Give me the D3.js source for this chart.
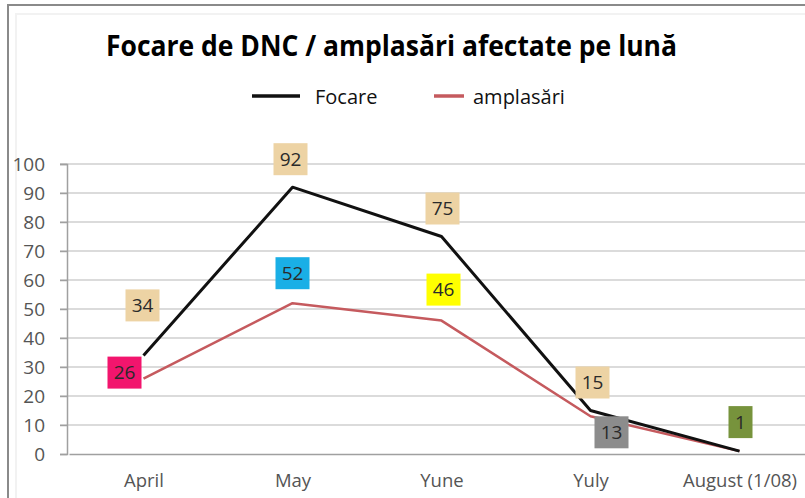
<!DOCTYPE html>
<html>
<head>
<meta charset="utf-8">
<script src="https://cdn.jsdelivr.net/npm/d3@7"></script>
<style>
  body { margin: 0; background: #fff; }
  svg { display: block; font-family: "Open Sans", sans-serif; }
</style>
</head>
<body>
<svg id="chart" width="805" height="498"></svg>
<script>
// chart values
const months = ["April", "May", "Yune", "Yuly", "August (1/08)"];
const focare = [34, 92, 75, 15, 1];
const amplasari = [26, 52, 46, 13, 1];
const yTicks = [0, 10, 20, 30, 40, 50, 60, 70, 80, 90, 100];

// label boxes: fill per point, and where they sit relative to the point
const focareBox = ["#EDD3A4", "#EDD3A4", "#EDD3A4", "#EDD3A4", "#77933C"];
const amplBox = ["#F2156D", "#1AAFE6", "#FFFF00", "#8C8C8C", null];
const focareOff = [[-1, -50], [-2, -28], [1, -28], [2, -28], [1, -29]];
const amplOff = [[-19, -6], [0, -30], [2, -31], [21, 16], [0, 0]];

const svg = d3.select("#chart");

const x = d3.scalePoint()
    .domain(months)
    .range([69, 814])
    .padding(0.5);

const y = d3.scaleLinear()
    .domain([0, 100])
    .range([454, 164]);

// frame
svg.append("path")
    .attr("d", "M8,498 V5 H805")
    .attr("fill", "none")
    .attr("stroke", "#8a8a8a")
    .attr("stroke-width", 2);
svg.append("path")
    .attr("d", "M16,498 V14 H805")
    .attr("fill", "none")
    .attr("stroke", "#f2f2f2")
    .attr("stroke-width", 2);

// gridlines
svg.append("g")
    .selectAll("line")
    .data(yTicks.filter(d => d > 0))
    .join("line")
    .attr("x1", 60)
    .attr("x2", 805)
    .attr("y1", d => y(d))
    .attr("y2", d => y(d))
    .attr("stroke", "#cfcfcf")
    .attr("stroke-width", 1.5);

// y axis
const yAxis = svg.append("g")
    .attr("transform", "translate(67,0)")
    .call(d3.axisLeft(y).tickValues(yTicks).tickSize(7).tickPadding(15));
yAxis.select(".domain").attr("stroke", "#a0a0a0").attr("stroke-width", 1.5);
yAxis.selectAll(".tick line").attr("stroke", "#a0a0a0").attr("stroke-width", 1.5);
yAxis.selectAll("text")
    .attr("fill", "#555")
    .style("font-size", "19px")
    .style("font-family", "Open Sans, sans-serif");

// x axis
const xAxis = svg.append("g")
    .attr("transform", "translate(0,454)")
    .call(d3.axisBottom(x).tickSize(0).tickPadding(20));
xAxis.select(".domain").attr("stroke", "#a0a0a0").attr("stroke-width", 1.5);
xAxis.selectAll("text")
    .attr("fill", "#555")
    .style("font-size", "18.5px")
    .style("font-family", "Open Sans, sans-serif");

// lines
const line = d3.line()
    .x((d, i) => x(months[i]))
    .y(d => y(d));

svg.append("path")
    .datum(amplasari)
    .attr("d", line)
    .attr("fill", "none")
    .attr("stroke", "#C55A5E")
    .attr("stroke-width", 2.5)
    .attr("stroke-linejoin", "round");

svg.append("path")
    .datum(focare)
    .attr("d", line)
    .attr("fill", "none")
    .attr("stroke", "#111")
    .attr("stroke-width", 3)
    .attr("stroke-linejoin", "round");

// data labels
function labels(values, fills, offsets) {
    const g = svg.append("g")
        .selectAll("g")
        .data(values.map((v, i) => ({ v, i })).filter(d => fills[d.i]))
        .join("g")
        .attr("transform", d => `translate(${x(months[d.i]) + offsets[d.i][0]},${y(d.v) + offsets[d.i][1]})`);
    g.append("rect")
        .attr("x", d => String(d.v).length > 1 ? -17 : -12)
        .attr("y", -16)
        .attr("width", d => String(d.v).length > 1 ? 34 : 24)
        .attr("height", 32)
        .attr("fill", d => fills[d.i]);
    g.append("text")
        .attr("text-anchor", "middle")
        .attr("dy", "0.35em")
        .attr("fill", "#2a2a2a")
        .style("font-size", "19px")
        .text(d => d.v);
}
labels(focare, focareBox, focareOff);
labels(amplasari, amplBox, amplOff);

// title
svg.append("text")
    .attr("x", 106)
    .attr("y", 56)
    .attr("textLength", 571)
    .attr("lengthAdjust", "spacingAndGlyphs")
    .style("font-size", "29px")
    .style("font-weight", "bold")
    .attr("fill", "#000")
    .text("Focare de DNC / amplasări afectate pe lună");

// legend
const legend = [
    { name: "Focare", color: "#111", x: 252, len: 48 },
    { name: "amplasări", color: "#C55A5E", x: 434, len: 30 }
];
const lg = svg.append("g")
    .selectAll("g")
    .data(legend)
    .join("g")
    .attr("transform", d => `translate(${d.x},96)`);
lg.append("line")
    .attr("x1", 0)
    .attr("x2", d => d.len)
    .attr("stroke", d => d.color)
    .attr("stroke-width", 3.5);
lg.append("text")
    .attr("x", d => d.len + 15 - (d.name === "Focare" ? 0 : 6))
    .attr("y", 8)
    .attr("fill", "#111")
    .style("font-size", "20px")
    .text(d => d.name);
</script>
</body>
</html>
